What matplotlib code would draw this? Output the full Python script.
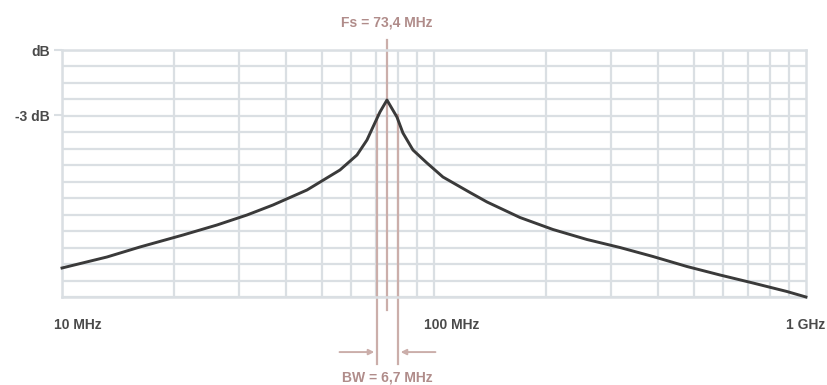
import numpy as np
import matplotlib
matplotlib.use('Agg')
import matplotlib.pyplot as plt
import matplotlib.transforms as mtransforms

# response curve (MHz, dB relative to peak)
freq_mhz = [10, 13.21, 16.2, 21.15, 26.1, 31.43, 36.91, 45.56, 55.88, 62.09, 66.05,
            68.55, 71.58, 74.75, 79.51, 82.53, 87.8, 95.76, 105.7, 125.0, 138.9,
            170.3, 208.9, 257.8, 316.2, 387.9, 478.7, 587.4, 720.4, 888.9, 1000]
level_db = [-33.6, -31.4, -29.4, -27.0, -25.0, -23.0, -21.0, -18.0, -14.0, -11.0, -8.0,
            -5.4, -2.4, 0.0, -3.4, -6.6, -10.0, -12.6, -15.4, -18.5, -20.4,
            -23.5, -25.9, -27.9, -29.5, -31.3, -33.3, -35.0, -36.6, -38.3, -39.4]

fs_mhz = 74.75         # marker line position as drawn
bw_mhz = [70.3, 80.0]  # -3 dB band edges as drawn
fs_text = 'Fs = 73,4 MHz'
bw_text = 'BW = 6,7 MHz'

xtick_vals = [10, 100, 1000]
xtick_labels = ['10 MHz', '100 MHz', '1 GHz']
ytick_vals = [10, -3]
ytick_labels = ['dB', '-3 dB']

font = ['Liberation Sans', 'DejaVu Sans']
dark = '#4a4a4a'
pink = '#cbaeaa'
pink_txt = '#b08c8a'
grid_c = '#dadfe3'

fig = plt.figure(figsize=(8.27, 3.85), dpi=100)
ax = fig.add_axes([0.075, 0.2286, 0.8995, 0.6415])
ax.set_xscale('log')
ax.set_xlim(10, 1000)
ax.set_ylim(-39.4, 10)
y0, y1 = ax.get_ylim()

# grid
for d in (10, 100):
    for k in range(1, 10):
        ax.axvline(d * k, color=grid_c, lw=1.6, zorder=1)
for yy in np.linspace(y0, y1, 16):
    ax.axhline(yy, color=grid_c, lw=1.6, zorder=1)
for s in ax.spines.values():
    s.set_color(grid_c)
    s.set_linewidth(1.8)

# marker lines
ax.plot([fs_mhz, fs_mhz], [y1 + 0.04 * (y1 - y0), y0 - 0.053 * (y1 - y0)],
        color=pink, lw=1.6, clip_on=False, zorder=2)
ybot = y0 - 0.27 * (y1 - y0)
for b in bw_mhz:
    ax.plot([b, b], [-3, ybot], color=pink, lw=1.6, clip_on=False, zorder=2)

yarrow = y0 - 0.223 * (y1 - y0)
ax.annotate('', xy=(bw_mhz[0], yarrow), xytext=(-29, 0), textcoords='offset points',
            arrowprops=dict(arrowstyle='-|>', color=pink, lw=1.4, mutation_scale=8),
            annotation_clip=False)
ax.annotate('', xy=(bw_mhz[1], yarrow), xytext=(29, 0), textcoords='offset points',
            arrowprops=dict(arrowstyle='-|>', color=pink, lw=1.4, mutation_scale=8),
            annotation_clip=False)

ax.plot(freq_mhz, level_db, color='#3a3a3a', lw=2.1, zorder=3, clip_on=False,
        solid_joinstyle='round')

# labels
trans = mtransforms.blended_transform_factory(ax.transData, ax.transAxes)
ax.text(fs_mhz, 1.113, fs_text, transform=trans, ha='center', va='center',
        family=font, weight='bold', fontsize=10, color=pink_txt)
ax.text(fs_mhz, -0.328, bw_text, transform=trans, ha='center', va='center',
        family=font, weight='bold', fontsize=10, color=pink_txt)

ax.set_xticks([])
ax.set_xticks([], minor=True)
offs = [(-6, 'left'), (-7, 'left'), (0, 'center')]
for v, lab, (dx, ha) in zip(xtick_vals, xtick_labels, offs):
    ax.annotate(lab, xy=(v, -0.113), xycoords=trans, xytext=(dx, 0),
                textcoords='offset points', ha=ha, va='center',
                family=font, weight='bold', fontsize=10, color=dark,
                annotation_clip=False)

ax.set_yticks(ytick_vals)
ax.set_yticklabels(ytick_labels, family=font, weight='bold', fontsize=10, color=dark)
ax.tick_params(axis='y', length=6, width=1.5, color=grid_c, pad=3)

fig.savefig('out.png', dpi=100, facecolor='white')
